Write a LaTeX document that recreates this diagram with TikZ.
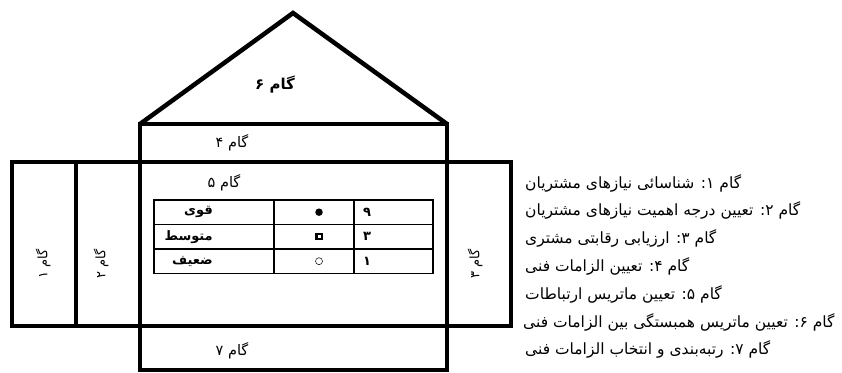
\documentclass[tikz,border=0pt]{standalone}
\usepackage{fontspec}
\TeXXeTstate=1
\newfontfamily\fa[Script=Arabic]{DejaVu Sans}
\tikzset{
  wall/.style={line width=4.5pt, line join=miter},
  roof/.style={line width=4.5pt, line join=miter},
  tline/.style={line width=1.3pt},
  lab/.style={font=\fa\fontsize{14.5}{16}\selectfont, inner sep=0pt},
  blab/.style={font=\fa\bfseries\fontsize{15}{17}\selectfont, inner sep=0pt},
  vlab/.style={font=\fa\fontsize{13}{15}\selectfont, inner sep=0pt, rotate=90},
  cell/.style={font=\fa\bfseries\fontsize{13}{15}\selectfont, inner sep=0pt},
  item/.style={font=\fa\fontsize{15.5}{17}\selectfont, inner sep=0pt, anchor=west},
}
\begin{document}
\begin{tikzpicture}[x=1pt,y=-1pt]
\useasboundingbox (0,0) rectangle (842,372);
% house frame
\coordinate (apex) at (293,13);
\coordinate (rl) at (140,124);
\coordinate (rr) at (447,124);
\coordinate (ml) at (140,370);
\coordinate (mr) at (447,370);
\coordinate (wtl) at (12,162);
\coordinate (wbr) at (511,326);
\coordinate (d1t) at (76,162);
\coordinate (d1b) at (76,326);
\draw[roof] (rl) -- (apex) -- (rr);
\draw[wall] (rl) -- (rr) -- (mr) -- (ml) -- cycle;
\draw[wall] (wtl) rectangle (wbr);
\draw[wall] (d1t) -- (d1b);
% labels in house
\node[blab] (g6) at (275,85) {\beginR گام ۶\endR};
\node[lab] (g4) at (232,143) {\beginR گام ۴\endR};
\node[lab] (g5) at (224,183) {\beginR گام ۵\endR};
\node[lab] (g7) at (232,351) {\beginR گام ۷\endR};
\node[vlab] (g1) at (43,264) {\beginR گام ۱\endR};
\node[vlab] (g2) at (101,264) {\beginR گام ۲\endR};
\node[vlab] (g3) at (475,264) {\beginR گام ۳\endR};
% table
\coordinate (ttl) at (154,200);
\coordinate (tbr) at (433,273.5);
\coordinate (c1t) at (274,200);
\coordinate (c1b) at (274,273.5);
\coordinate (c2t) at (354,200);
\coordinate (c2b) at (354,273.5);
\coordinate (r1l) at (154,224.5);
\coordinate (r1r) at (433,224.5);
\coordinate (r2l) at (154,249);
\coordinate (r2r) at (433,249);
\draw[tline] (ttl) rectangle (tbr);
\draw[tline] (c1t) -- (c1b);
\draw[tline] (c2t) -- (c2b);
\draw[tline] (r1l) -- (r1r);
\draw[tline] (r2l) -- (r2r);
\node[cell, anchor=east] (t11) at (213,212.2) {\beginR قوی\endR};
\node[cell, anchor=east] (t21) at (213,236.7) {\beginR متوسط\endR};
\node[cell, anchor=east] (t31) at (213,261.2) {\beginR ضعیف\endR};
\node[circle, fill=black, inner sep=0pt, minimum size=7.5pt] (t12) at (319,212.2) {};
\node[rectangle, fill=black, inner sep=0pt, minimum size=7.5pt] (t22) at (319,236.7) {};
\node[rectangle, fill=white, inner sep=0pt, minimum size=3pt] (t22i) at (319,236.7) {};
\node[circle, draw=black, line width=0.5pt, inner sep=0pt, minimum size=7pt] (t32) at (319,261.2) {};
\node[cell] (t13) at (367,212.2) {۹};
\node[cell] (t23) at (367,236.7) {۳};
\node[cell] (t33) at (367,261.2) {۱};
% list
\node[item] (l1) at (525,183) {\beginR گام ۱: شناسائی نیازهای مشتریان\endR};
\node[item] (l2) at (525,210.8) {\beginR گام ۲: تعیین درجه اهمیت نیازهای مشتریان\endR};
\node[item] (l3) at (525,238.6) {\beginR گام ۳: ارزیابی رقابتی مشتری\endR};
\node[item] (l4) at (525,266.4) {\beginR گام ۴: تعیین الزامات فنی\endR};
\node[item] (l5) at (525,294.2) {\beginR گام ۵: تعیین ماتریس ارتباطات\endR};
\node[item] (l6) at (523,322) {\beginR گام ۶: تعیین ماتریس همبستگی بین الزامات فنی\endR};
\node[item] (l7) at (525,349.8) {\beginR گام ۷: رتبه‌بندی و انتخاب الزامات فنی\endR};
\end{tikzpicture}
\end{document}
